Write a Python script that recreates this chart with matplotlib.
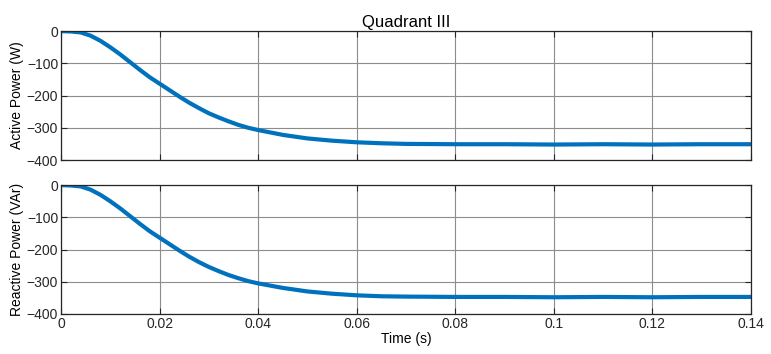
import numpy as np
import matplotlib.pyplot as plt

plt.rcParams.update({"font.family": ["Liberation Sans", "DejaVu Sans"], "font.size": 10})

# data (time in s, power in W / VAr)
t = [0, 0.002, 0.004, 0.006, 0.008, 0.010, 0.012, 0.014, 0.016, 0.018, 0.020,
     0.022, 0.024, 0.026, 0.028, 0.030, 0.032, 0.034, 0.036, 0.038, 0.040,
     0.045, 0.050, 0.055, 0.060, 0.065, 0.070, 0.080, 0.090, 0.100, 0.110,
     0.120, 0.130, 0.140]
p_active = [0, -1, -4, -14, -30, -50, -72, -96, -120, -143, -163,
            -183, -203, -222, -239, -255, -268, -280, -291, -300, -307,
            -322, -333, -340, -345, -348, -350, -351, -351, -352, -351,
            -352, -351, -351]
q_reactive = [0, -1, -4, -14, -30, -50, -72, -96, -120, -143, -163,
              -183, -203, -222, -239, -254, -267, -279, -289, -298, -305,
              -319, -330, -337, -342, -345, -346, -347, -347, -348, -347,
              -348, -347, -347]
xticks = [0, 0.02, 0.04, 0.06, 0.08, 0.1, 0.12, 0.14]
xticklabels = ["0", "0.02", "0.04", "0.06", "0.08", "0.1", "0.12", "0.14"]
yticks = [0, -100, -200, -300, -400]

fig = plt.figure(figsize=(7.71, 3.54), dpi=100)
ax1 = fig.add_axes([0.0791, 0.548, 0.895, 0.364])
ax2 = fig.add_axes([0.0791, 0.113, 0.895, 0.364])

for ax, y, lab in [(ax1, p_active, "Active Power (W)"),
                   (ax2, q_reactive, "Reactive Power (VAr)")]:
    ax.plot(t, y, color="#0072BD", lw=3.0, solid_capstyle="round")
    ax.set_xlim(0, 0.14)
    ax.set_ylim(-400, 0)
    ax.set_xticks(xticks)
    ax.set_yticks(yticks)
    ax.set_ylabel(lab, labelpad=2)
    ax.grid(True, color="#8c8c8c", lw=0.8)
    ax.set_axisbelow(True)
    ax.tick_params(direction="in", length=4, color="#262626", labelcolor="#262626",
                   right=True, top=True, pad=2)
    for s in ax.spines.values():
        s.set_color("#262626")
        s.set_linewidth(0.9)

ax1.set_xticklabels([])
ax1.set_title("Quadrant III", pad=3)
ax2.set_xticklabels(xticklabels)
ax2.set_xlabel("Time (s)", labelpad=1)

fig.savefig("out.png", dpi=100)
